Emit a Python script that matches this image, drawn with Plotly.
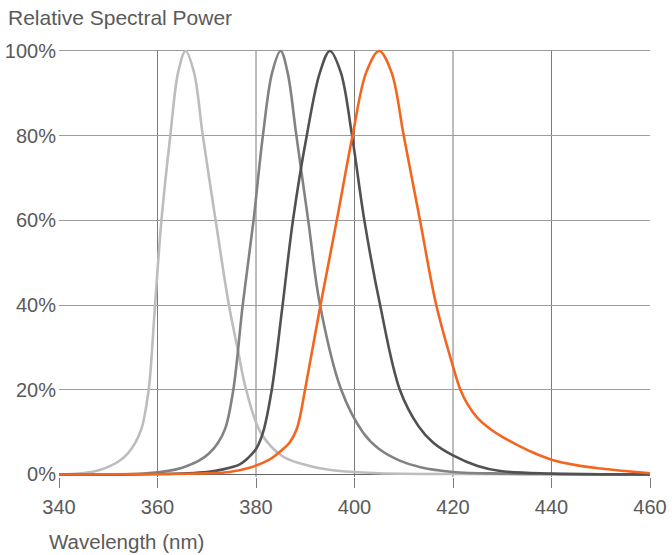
import plotly.graph_objects as go

# Wavelength (nm) / relative power (%)
uv365_nm = [340, 344, 347.5, 350, 352, 354, 355.5, 356.8, 357.7, 358.4, 359.5, 360.8, 362.6, 364.2, 365.7, 367.4, 369.2, 371.8, 374.5, 376.3, 378, 381, 385.4, 390.9, 397, 405, 420, 460]
uv365_pw = [0, 0.2, 0.8, 1.8, 3, 5, 7.5, 11, 16, 22, 40, 60, 80, 95, 100, 95, 80, 60, 40, 29.5, 20, 9.8, 4.3, 2, 0.8, 0.3, 0.1, 0]

uv385_nm = [340, 355, 360, 363.8, 366, 368.5, 370.5, 372.3, 373.8, 375.4, 377.3, 379.5, 381.4, 383.3, 385, 386.4, 388.2, 390.6, 393, 397.3, 401.8, 405, 409.3, 413.4, 420, 430, 440, 460]
uv385_pw = [0, 0.1, 0.5, 1.2, 2, 3.3, 5, 7.5, 11, 20, 40, 60, 80, 95, 100, 95, 80, 60, 40, 20, 9.8, 6, 3.2, 1.7, 0.6, 0.2, 0.1, 0]

uv395_nm = [340, 360, 370, 373.3, 376.7, 378.3, 380, 381.4, 383.2, 385.4, 387.5, 390.3, 393, 395, 397.2, 399.5, 402, 405.2, 409.2, 413, 416, 420, 425, 429.6, 440, 460]
uv395_pw = [0, 0.1, 0.6, 1.2, 2.4, 3.8, 6, 9.8, 20, 40, 60, 80, 95, 100, 95, 80, 60, 40, 20, 11.4, 7.5, 4.5, 2, 0.8, 0.2, 0]

uv405_nm = [340, 360, 370, 374.6, 378.7, 382.7, 385.4, 386.8, 388.2, 389.0, 389.8, 393.1, 396.4, 399.6, 402.4, 405, 407.5, 410, 413.3, 416.6, 420, 421.5, 423, 425, 427.5, 430, 433, 436, 440, 445, 450, 455, 460]
uv405_pw = [0, 0.1, 0.3, 0.6, 1.6, 3.5, 5.9, 7.5, 10.5, 14, 19, 40, 60, 80, 95, 100, 95, 80, 60, 40, 25.5, 20, 16.5, 13.3, 10.8, 8.9, 7, 5.3, 3.5, 2.2, 1.4, 0.8, 0.3]

x_ticks = [340, 360, 380, 400, 420, 440, 460]
y_ticks = [0, 20, 40, 60, 80, 100]
y_labels = [f"{v}%" for v in y_ticks]

series = [
    ("365 nm", uv365_nm, uv365_pw, "#bdbdbf"),
    ("385 nm", uv385_nm, uv385_pw, "#828285"),
    ("395 nm", uv395_nm, uv395_pw, "#515153"),
    ("405 nm", uv405_nm, uv405_pw, "#f4661f"),
]

FONT = "Liberation Sans, Arial, sans-serif"
TXT = "#5a5a5a"
GRID_V = "#7a7a7a"
GRID_H = "#9c9c9c"

W, H = 672, 555
ML, MR, MT, MB = 59, 22, 48, 78
PW, PH = W - ML - MR, H - MT - MB
Y_RANGE = [-0.6, 100.7]

fig = go.Figure()
for name, xs, ys, col in series:
    fig.add_trace(go.Scatter(
        x=xs, y=ys, mode="lines", name=name,
        line=dict(color=col, width=2.6, shape="spline", smoothing=1.0),
        hoverinfo="x+y",
    ))

# interior vertical grid lines (none at the range ends, as in the reference)
y_top = (100 - Y_RANGE[0]) / (Y_RANGE[1] - Y_RANGE[0])
for xv in x_ticks[1:-1]:
    fig.add_shape(type="line", xref="x", yref="paper", x0=xv, x1=xv, y0=0, y1=y_top,
                  line=dict(color=GRID_V, width=1), layer="below")

fig.update_layout(
    width=W, height=H,
    margin=dict(l=ML, r=MR, t=MT, b=MB, autoexpand=False),
    paper_bgcolor="white", plot_bgcolor="white",
    showlegend=False,
    font=dict(family=FONT, size=20, color=TXT),
    title=dict(text="Relative Spectral Power", x=8 / W, xref="container", xanchor="left",
               y=1 - 18 / H, yref="container", yanchor="middle",
               font=dict(family=FONT, size=21, color=TXT)),
)

fig.update_xaxes(
    range=[340, 460], tickvals=x_ticks, ticktext=[str(v) for v in x_ticks],
    showgrid=False, zeroline=False, showline=False, automargin=False,
    ticks="outside", ticklen=10, tickcolor=GRID_V, tickwidth=1,
    ticklabelstandoff=2,
    tickfont=dict(family=FONT, size=20, color=TXT),
)
fig.update_yaxes(
    range=Y_RANGE, tickvals=y_ticks, ticktext=y_labels, automargin=False,
    showgrid=True, gridcolor=GRID_H, gridwidth=1.3,
    zeroline=True, zerolinecolor="#666666", zerolinewidth=1.4,
    showline=False, ticks="", ticklabelstandoff=2,
    tickfont=dict(family=FONT, size=20, color=TXT),
)

fig.add_annotation(text="Wavelength (nm)", xref="paper", yref="paper",
                   x=(47 - ML) / PW, y=-(541 - (H - MB)) / PH,
                   xanchor="left", yanchor="middle", showarrow=False,
                   font=dict(family=FONT, size=20.5, color=TXT))

# remove the browser's default 8px body margin so the figure sits at (0, 0)
fig.write_html("out.html", config={"displayModeBar": False},
               post_script="document.body.style.margin='0';")
